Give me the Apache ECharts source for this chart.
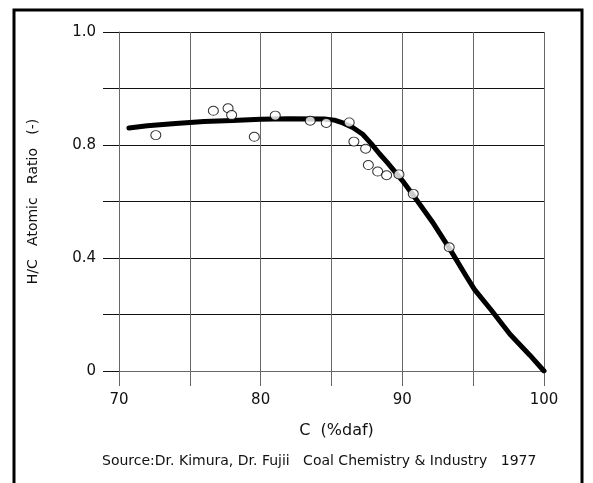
<!DOCTYPE html>
<html>
<head>
<meta charset="utf-8">
<script src="https://cdn.jsdelivr.net/npm/echarts@6/dist/echarts.min.js"></script>
<style>html,body{margin:0;padding:0;background:#fff;}#c{width:593px;height:483px;}</style>
</head>
<body>
<div id="c"></div>
<script>
// Measured points (C %daf, H/C)
var pointC  = [72.6, 76.66, 77.7, 77.95, 79.55, 81.03, 83.5, 84.63, 86.25, 86.58, 87.41, 87.6, 88.26, 88.89, 89.76, 90.77, 93.31];
var pointHC = [0.835, 0.921, 0.930, 0.906, 0.829, 0.904, 0.886, 0.878, 0.880, 0.812, 0.787, 0.729, 0.706, 0.693, 0.696, 0.627, 0.438];
// Trend curve
var curveC  = [70.7, 72, 74, 76, 78, 80, 82, 84.5, 85.2, 85.8, 86.5, 87.2, 87.8, 88.4, 88.9, 90, 91, 92.2, 93.4, 94.5, 95.1, 96.3, 97.6, 99, 100];
var curveHC = [0.860, 0.868, 0.876, 0.883, 0.887, 0.891, 0.893, 0.892, 0.888, 0.878, 0.862, 0.838, 0.805, 0.768, 0.740, 0.674, 0.606, 0.522, 0.428, 0.336, 0.288, 0.214, 0.130, 0.056, 0.0];
// Tick labels as printed on the original
var xTickLabels = {70: '70', 80: '80', 90: '90', 100: '100'};
var yTickLabels = {'0': '0', '0.4': '0.4', '0.8': '0.8', '1.2': '1.0'};
var xName = 'C  (%daf)';
var yName = 'H/C   Atomic   Ratio   (-)';
var sourceText = 'Source:Dr. Kimura, Dr. Fujii   Coal Chemistry & Industry   1977';

var FONT = '"DejaVu Sans", sans-serif';
var chart = echarts.init(document.getElementById('c'), null, {renderer: 'canvas'});
chart.setOption({
  animation: false,
  backgroundColor: '#fff',
  grid: {left: 119, top: 32, right: 49, bottom: 112, containLabel: false},
  xAxis: {
    type: 'value', min: 70, max: 100, interval: 5,
    axisLine: {show: true, lineStyle: {color: '#666', width: 1}},
    axisTick: {show: true, length: 15, lineStyle: {color: '#666'}},
    splitLine: {show: true, lineStyle: {color: '#666', width: 1}},
    axisLabel: {margin: 22, fontSize: 15, color: '#111', fontFamily: FONT,
      formatter: function (v) { var k = Math.round(v); return xTickLabels[k] !== undefined ? xTickLabels[k] : ''; }},
    name: xName, nameLocation: 'middle', nameGap: 52,
    nameTextStyle: {fontSize: 16, color: '#111', fontFamily: FONT, padding: [0, 0, 0, 10]}
  },
  yAxis: {
    type: 'value', min: 0, max: 1.2, interval: 0.2,
    axisLine: {show: true, lineStyle: {color: '#666', width: 1}},
    axisTick: {show: true, length: 16, lineStyle: {color: '#111'}},
    splitLine: {show: true, lineStyle: {color: '#111', width: 1}},
    axisLabel: {margin: 23, fontSize: 15, color: '#111', fontFamily: FONT,
      formatter: function (v) { var k = String(Math.round(v * 10) / 10); return yTickLabels[k] !== undefined ? yTickLabels[k] : ''; }},
    name: yName, nameLocation: 'middle', nameGap: 79, nameRotate: 90,
    nameTextStyle: {fontSize: 14, color: '#111', fontFamily: FONT}
  },
  graphic: [
    {type: 'rect', shape: {x: 14, y: 10, width: 568, height: 520}, style: {fill: 'none', stroke: '#000', lineWidth: 3}, z: 100},
    {type: 'text', left: 102, top: 454, style: {text: sourceText, fill: '#111', font: '14px ' + FONT}}
  ],
  series: [
    {type: 'line', data: curveC.map(function (c, i) { return [c, curveHC[i]]; }), showSymbol: false, smooth: false,
      lineStyle: {color: '#000', width: 5, cap: 'round', join: 'round'}, z: 2},
    {type: 'scatter', data: pointC.map(function (c, i) { return [c, pointHC[i]]; }), symbol: 'circle', symbolSize: [10, 9],
      itemStyle: {color: '#fff', borderColor: '#000', borderWidth: 1}, z: 3}
  ]
});
</script>
</body>
</html>
